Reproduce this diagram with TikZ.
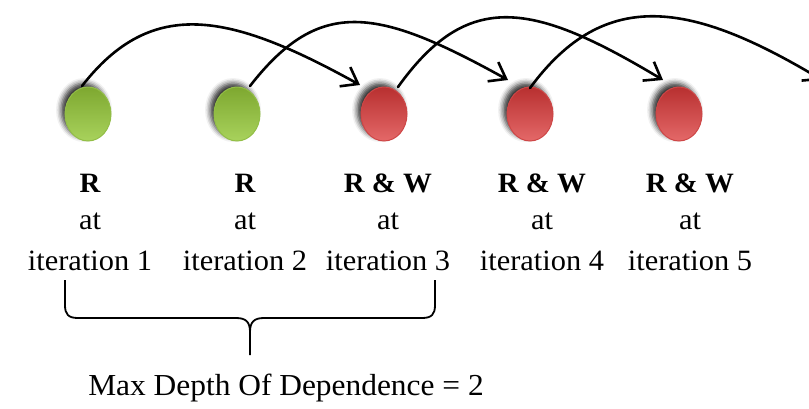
\documentclass[tikz,border=0pt]{standalone}
\usepackage{fontspec}
\setmainfont{Liberation Serif}[FakeStretch=1.03]
\usetikzlibrary{arrows.meta,shadows.blur,calc,shapes.geometric}
\definecolor{leaftop}{RGB}{126,168,48}
\definecolor{leafbot}{RGB}{168,210,92}
\definecolor{leafrim}{RGB}{146,190,70}
\definecolor{rubytop}{RGB}{184,48,48}
\definecolor{rubybot}{RGB}{228,104,104}
\definecolor{rubyrim}{RGB}{206,70,70}
\begin{document}
\begin{tikzpicture}[x=1pt,y=-1pt,
  ball/.style={ellipse, minimum width=46pt, minimum height=54pt, inner sep=0pt, line width=1pt,
    blur shadow={shadow xshift=-4pt, shadow yshift=4pt, shadow blur radius=5pt, shadow opacity=80}},
  greenball/.style={ball, draw=leafrim, top color=leaftop, bottom color=leafbot},
  redball/.style={ball, draw=rubyrim, top color=rubytop, bottom color=rubybot},
  dep/.style={line width=2.6pt, line cap=round, -{Straight Barb[length=15pt,width=22pt]}},
  brace/.style={line width=1.8pt, line join=round},
  headtext/.style={anchor=base, inner sep=0pt, font=\fontsize{28}{32}\selectfont\bfseries},
  bodytext/.style={anchor=base, inner sep=0pt, font=\fontsize{29.5}{34}\selectfont},
  notetext/.style={anchor=base, inner sep=0pt, font=\fontsize{30.5}{35}\selectfont}]
\useasboundingbox (0,0) rectangle (809,408);
\clip (0,0) rectangle (809,408);

% accesses, one per iteration
\node[greenball] (b1) at (88,114) {};
\node[greenball] (b2) at (237,114) {};
\node[redball]   (b3) at (384,114) {};
\node[redball]   (b4) at (530,114) {};
\node[redball]   (b5) at (679,114) {};
\coordinate (next) at (822,80);

% dependences two iterations ahead
\draw[dep] ($(b1)+(-6,-28)$) .. controls +(70,-90) and +(-130,-72) .. ($(b3)+(-24,-29)$);
\draw[dep] ($(b2)+(13,-28)$) .. controls +(70,-90) and +(-130,-72) .. ($(b4)+(-22,-34)$);
\draw[dep] ($(b3)+(14,-27)$) .. controls +(70,-98) and +(-130,-78) .. ($(b5)+(-16,-34)$);
\draw[dep] ($(b4)+(0,-26)$) .. controls +(75,-102) and +(-130,-78) .. (next);

% labels under each access
\foreach \i/\lx/\head in {1/90/R, 2/245/R, 3/388/R \& W, 4/542/R \& W, 5/690/R \& W}{
  \node[headtext] (h\i) at (\lx,192) {\head};
  \node[bodytext] (a\i) at (\lx,229) {at};
  \node[bodytext] (n\i) at (\lx,270) {iteration \i};
}

% brace spanning iterations 1 to 3
\draw[brace] (65,280) -- (65,305) .. controls (65,314) and (68,318) .. (78,318)
  -- (236,318) .. controls (246,318) and (250,322) .. (250,332) -- (250,355);
\draw[brace] (435,280) -- (435,305) .. controls (435,314) and (432,318) .. (422,318)
  -- (264,318) .. controls (254,318) and (250,322) .. (250,332);

\node[notetext] (depth) at (286,395) {Max Depth Of Dependence = 2};
\end{tikzpicture}
\end{document}
